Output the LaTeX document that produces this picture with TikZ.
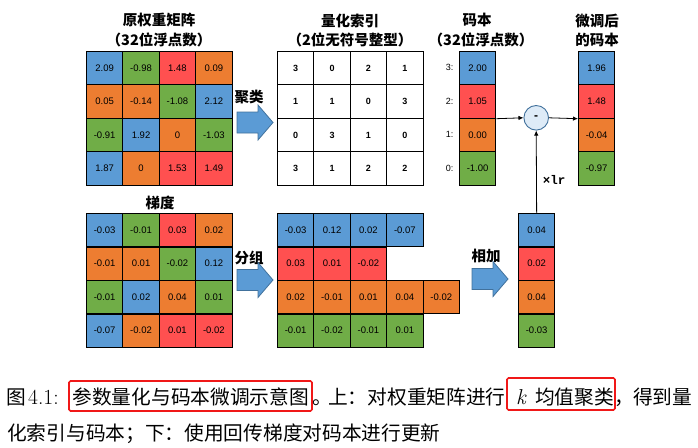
\documentclass[tikz,border=0pt]{standalone}
\usepackage{fontspec}
\newfontfamily\arial{Liberation Sans}
\newfontfamily\cjk{Noto Sans CJK SC}
\newfontfamily\monof{Liberation Mono}
\usetikzlibrary{arrows.meta}
\definecolor{cB}{HTML}{5B9BD5}
\definecolor{cO}{HTML}{ED7D31}
\definecolor{cG}{HTML}{70AD47}
\definecolor{cR}{HTML}{FF5050}
\definecolor{arrowdraw}{HTML}{41719C}
\definecolor{circfill}{HTML}{DEEBF7}
\definecolor{boxred}{HTML}{F01818}
\tikzset{
  cellbox/.style={draw=black, line width=0.9pt, minimum width=36.4pt, minimum height=33.4pt,
    inner sep=0pt, anchor=north west, font=\arial\fontsize{9.5}{11}\selectfont},
  idxbox/.style={cellbox, fill=white, font=\arial\bfseries\fontsize{9}{11}\selectfont},
  ttl/.style={font=\cjk\bfseries\fontsize{14.5}{16}\selectfont, inner sep=0pt},
  lbl/.style={font=\arial\fontsize{9}{11}\selectfont, inner sep=0pt},
  barrow/.style={fill=cB, draw=arrowdraw, line width=0.8pt},
  conn/.style={draw=black, line width=0.8pt, -{Latex[length=5pt,width=4.5pt]}},
  captxt/.style={font=\cjk\fontsize{19.7}{22}\selectfont, inner sep=0pt, anchor=base west},
  capltxt/.style={font=\fontsize{21.5}{24}\selectfont, inner sep=0pt, anchor=base west},
  redbox/.style={draw=boxred, line width=1.6pt, rounded corners=1.5pt, inner sep=0pt}
}
\newcommand\blockarrow[2]{%
  \draw[barrow] (#1,{#2-10.5}) -- ({#1+21},{#2-10.5}) -- ({#1+21},{#2-17.5}) -- ({#1+36},#2)
    -- ({#1+21},{#2+17.5}) -- ({#1+21},{#2+10.5}) -- (#1,{#2+10.5}) -- cycle;}
\begin{document}
\begin{tikzpicture}[x=1pt,y=-1pt]
\useasboundingbox (0,0) rectangle (698,447);
% ---------- titles
\node[ttl] (t1a) at (159,20) {原权重矩阵};
\node[ttl] (t1b) at (159,40) {（32位浮点数）};
\node[ttl] (t2a) at (350,21) {量化索引};
\node[ttl] (t2b) at (350,40) {（2位无符号整型）};
\node[ttl] (t3a) at (477,20) {码本};
\node[ttl] (t3b) at (481,40) {（32位浮点数）};
\node[ttl] (t4a) at (597,21) {微调后};
\node[ttl] (t4b) at (597,40) {的码本};
\node[ttl] (t5) at (160,203) {梯度};
\node[ttl] (a1) at (249,97) {聚类};
\node[ttl] (a2) at (249,258) {分组};
\node[ttl] (a3) at (486,256) {相加};
% ---------- weight matrix
\foreach \v/\c [count=\i from 0] in {2.09/cB,-0.98/cG,1.48/cR,0.09/cO,0.05/cO,-0.14/cO,-1.08/cG,2.12/cB,-0.91/cG,1.92/cB,0/cO,-1.03/cG,1.87/cB,0/cO,1.53/cR,1.49/cR}{
  \pgfmathtruncatemacro\cc{mod(\i,4)}
  \pgfmathtruncatemacro\rr{\i/4}
  \node[cellbox,fill=\c] (W\i) at ({86+36.4*\cc},{51+33.4*\rr}) {\v};
}
% ---------- index matrix
\foreach \v [count=\i from 0] in {3,0,2,1,1,1,0,3,0,3,1,0,3,1,2,2}{
  \pgfmathtruncatemacro\cc{mod(\i,4)}
  \pgfmathtruncatemacro\rr{\i/4}
  \node[idxbox] (Q\i) at ({277+36.4*\cc},{51+33.4*\rr}) {\v};
}
% ---------- codebook
\foreach \v/\c/\l [count=\i from 0] in {2.00/cB/3,1.05/cR/2,0.00/cO/1,-1.00/cG/0}{
  \node[cellbox,fill=\c] (C\i) at (459,{51+33.4*\i}) {\v};
  \node[lbl] (CL\i) at (449.5,{67.7+33.4*\i}) {\l:};
}
% ---------- fine-tuned codebook
\foreach \v/\c [count=\i from 0] in {1.96/cB,1.48/cR,-0.04/cO,-0.97/cG}{
  \node[cellbox,fill=\c] (F\i) at (578,{51+33.4*\i}) {\v};
}
% ---------- gradient matrix
\foreach \v/\c [count=\i from 0] in {-0.03/cB,-0.01/cG,0.03/cR,0.02/cO,-0.01/cO,0.01/cO,-0.02/cG,0.12/cB,-0.01/cG,0.02/cB,0.04/cO,0.01/cG,-0.07/cB,-0.02/cO,0.01/cR,-0.02/cR}{
  \pgfmathtruncatemacro\cc{mod(\i,4)}
  \pgfmathtruncatemacro\rr{\i/4}
  \node[cellbox,fill=\c] (G\i) at ({86+36.4*\cc},{213+33.5*\rr}) {\v};
}
% ---------- grouped gradients
\foreach \v [count=\i from 0] in {-0.03,0.12,0.02,-0.07}{
  \node[cellbox,fill=cB] (PB\i) at ({277+36.4*\i},213) {\v};}
\foreach \v [count=\i from 0] in {0.03,0.01,-0.02}{
  \node[cellbox,fill=cR] (PR\i) at ({277+36.4*\i},246.5) {\v};}
\foreach \v [count=\i from 0] in {0.02,-0.01,0.01,0.04,-0.02}{
  \node[cellbox,fill=cO] (PO\i) at ({277+36.4*\i},280) {\v};}
\foreach \v [count=\i from 0] in {-0.01,-0.02,-0.01,0.01}{
  \node[cellbox,fill=cG] (PG\i) at ({277+36.4*\i},313.5) {\v};}
% ---------- summed gradients
\foreach \v/\c [count=\i from 0] in {0.04/cB,0.02/cR,0.04/cO,-0.03/cG}{
  \node[cellbox,fill=\c] (S\i) at (518,{213+33.5*\i}) {\v};
}
% ---------- block arrows
\blockarrow{237}{122.5}
\blockarrow{237}{280}
\blockarrow{472}{279}
% ---------- subtraction
\node[circle, draw=arrowdraw, fill=circfill, line width=0.9pt, minimum size=24.6pt, inner sep=0pt,
  font=\arial\bfseries\fontsize{12}{12}\selectfont] (minus) at (536.2,117.8) {-};
\draw[conn] (C1.south east) -- (minus.west);
\draw[conn] (minus.east) -- (F1.south west);
\draw[conn] (S0.north) -- (minus.south);
\node[font=\monof\bfseries\fontsize{12.5}{14}\selectfont, inner sep=0pt] (lr) at (554,180) {×lr};
% ---------- caption
\node[captxt] (c1) at (6,404.5) {图};
\node[capltxt] (c2) at (28,404.5) {4.1:};
\node[redbox, minimum width=243pt, minimum height=30pt] (rb1) at (190.5,396) {};
\node[captxt] (c3) at (72.3,404.5) {参数量化与码本微调示意图};
\node[captxt] (c4) at (312,404.5) {。};
\node[captxt] (c5) at (328,404.5) {上：对权重矩阵进行};
\node[redbox, minimum width=108pt, minimum height=32pt] (rb2) at (561,394) {};
\node[capltxt] (c6) at (516,404.5) {\itshape k};
\node[captxt] (c7) at (535,404.5) {均值聚类};
\node[captxt] (c8) at (614,404.5) {，};
\node[captxt] (c9) at (633,404.5) {得到量};
\node[captxt] (c10) at (7,440.5) {化索引与码本；下：使用回传梯度对码本进行更新};
\end{tikzpicture}
\end{document}
